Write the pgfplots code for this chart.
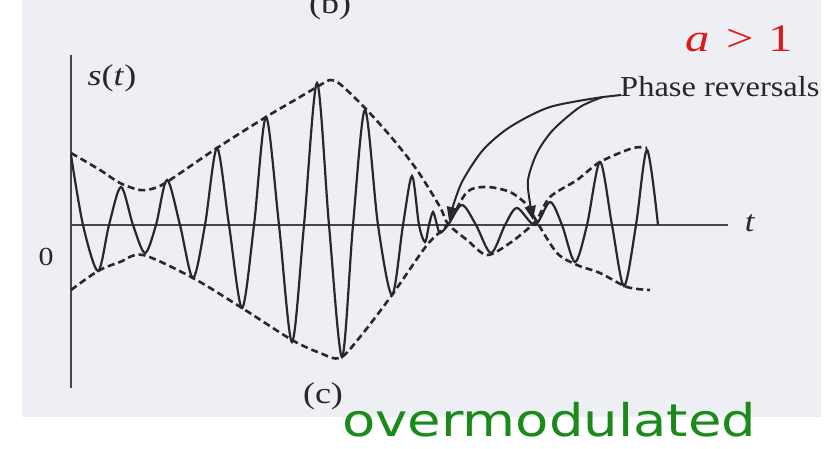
\documentclass[border=0pt]{standalone}
\usepackage{pgfplots}
\pgfplotsset{compat=1.18}
\usepackage{fontspec}
\setmainfont{Liberation Serif}
\newfontfamily\labelsans{DejaVu Sans}
\usetikzlibrary{arrows.meta}

\definecolor{paper}{RGB}{237,239,244}
\definecolor{ink}{RGB}{40,40,40}
\definecolor{axisink}{RGB}{70,70,70}
\definecolor{redtxt}{RGB}{222,24,24}
\definecolor{greentxt}{RGB}{26,138,26}

\begin{document}
\begin{tikzpicture}[x=1pt,y=1pt]
% page background
\fill[paper] (22,32) rectangle (821,449);

\begin{axis}[
  at={(71pt,61pt)}, anchor=south west,
  x=1pt, y=1pt,
  xmin=0, xmax=657, ymin=-163, ymax=170,
  enlargelimits=false,
  axis lines=middle,
  axis line style={-, line width=2.2pt, draw=axisink},
  xtick=\empty, ytick=\empty,
  clip=false,
]
% envelope +(1 + a m(t))
\addplot[ink, line width=2.6pt, dash pattern=on 7pt off 4pt, smooth] coordinates {
 (0,72) (29,55) (49,42) (69,35) (84,37) (99,45) (146,77) (195,108) (229,128)
 (251,141) (259,145) (269,141) (294,117) (321,87) (346,55) (369,18) (377,1)
 (396,-15) (416,-30) (439,-18) (459,-2) (466,5) (479,28) (506,45) (529,63)
 (562,77) (576,77)
};
% envelope -(1 + a m(t))
\addplot[ink, line width=2.6pt, dash pattern=on 7pt off 4pt, smooth] coordinates {
 (0,-65) (27,-46) (49,-37) (72,-30) (122,-53) (171,-83) (221,-115) (249,-128)
 (269,-133) (289,-112) (321,-70) (356,-20) (377,1) (396,33) (416,38) (439,33)
 (456,20) (466,3) (486,-28) (506,-40) (529,-48) (556,-62) (579,-65)
};
% modulated carrier s(t)
\addplot[ink, line width=2.2pt, smooth] coordinates {
 (0,70) (12,0) (27,-46) (38,0) (50,38) (62,0) (74,-28) (85,0) (96,45) (109,0)
 (122,-53) (134,0) (146,77) (158,0) (171,-83) (183,0) (195,108) (208,0)
 (221,-117) (233,0) (246,142) (258,0) (271,-132) (282,0) (294,115) (307,0)
 (321,-70) (332,0) (341,49) (348,0) (354,-17) (358,0) (362,13) (366,0)
 (369,-8) (377,0) (391,20) (405,0) (420,-28) (434,0) (446,17) (464,0)
 (479,23) (491,0) (504,-37) (516,0) (529,63) (541,0) (553,-61) (565,0)
 (576,75) (587,0)
};
\end{axis}

% annotation arrows to the two phase reversals
\draw[ink, line width=2pt] (621,354) -- (603,352);
\draw[ink, line width=2pt, -{Triangle[length=14pt,width=11pt]}]
  plot[smooth] coordinates {(603,352) (550,342) (510,322) (483,299) (463,269) (454,246) (449,228)};
\draw[ink, line width=2pt, -{Triangle[length=14pt,width=11pt]}]
  plot[smooth] coordinates {(603,352) (580,342) (553,319) (537,296) (528,269) (530,246) (533,229)};

% texts
\node[ink, font=\fontsize{30}{32}\selectfont, xscale=1.2] at (330,443) {(b)};
\node[ink, font=\fontsize{30}{32}\selectfont, xscale=1.2] at (112,371) {\textit{s}(\textit{t})};
\node[ink, font=\fontsize{26}{28}\selectfont, xscale=1.15] at (46,192) {0};
\node[ink, font=\fontsize{30}{32}\selectfont, xscale=1.15] at (750,226) {\textit{t}};
\node[ink, font=\fontsize{30}{32}\selectfont, xscale=1.2] at (323,53) {(c)};
\node[ink, font=\fontsize{29}{31}\selectfont, xscale=1.12, anchor=base west, inner sep=0pt] at (620,352) {Phase reversals};
\node[redtxt, font=\fontsize{39}{41}\selectfont, xscale=1.25, anchor=base west, inner sep=0pt] at (685,397) {\textit{a}\hspace{0.35em}>\hspace{0.3em}1};
\node[greentxt, font=\labelsans\fontsize{45}{47}\selectfont, xscale=1.21, anchor=base west, inner sep=0pt] at (342,12) {overmodulated};

\pgfresetboundingbox
\path[use as bounding box] (0,0) rectangle (832,449);
\end{tikzpicture}
\end{document}
